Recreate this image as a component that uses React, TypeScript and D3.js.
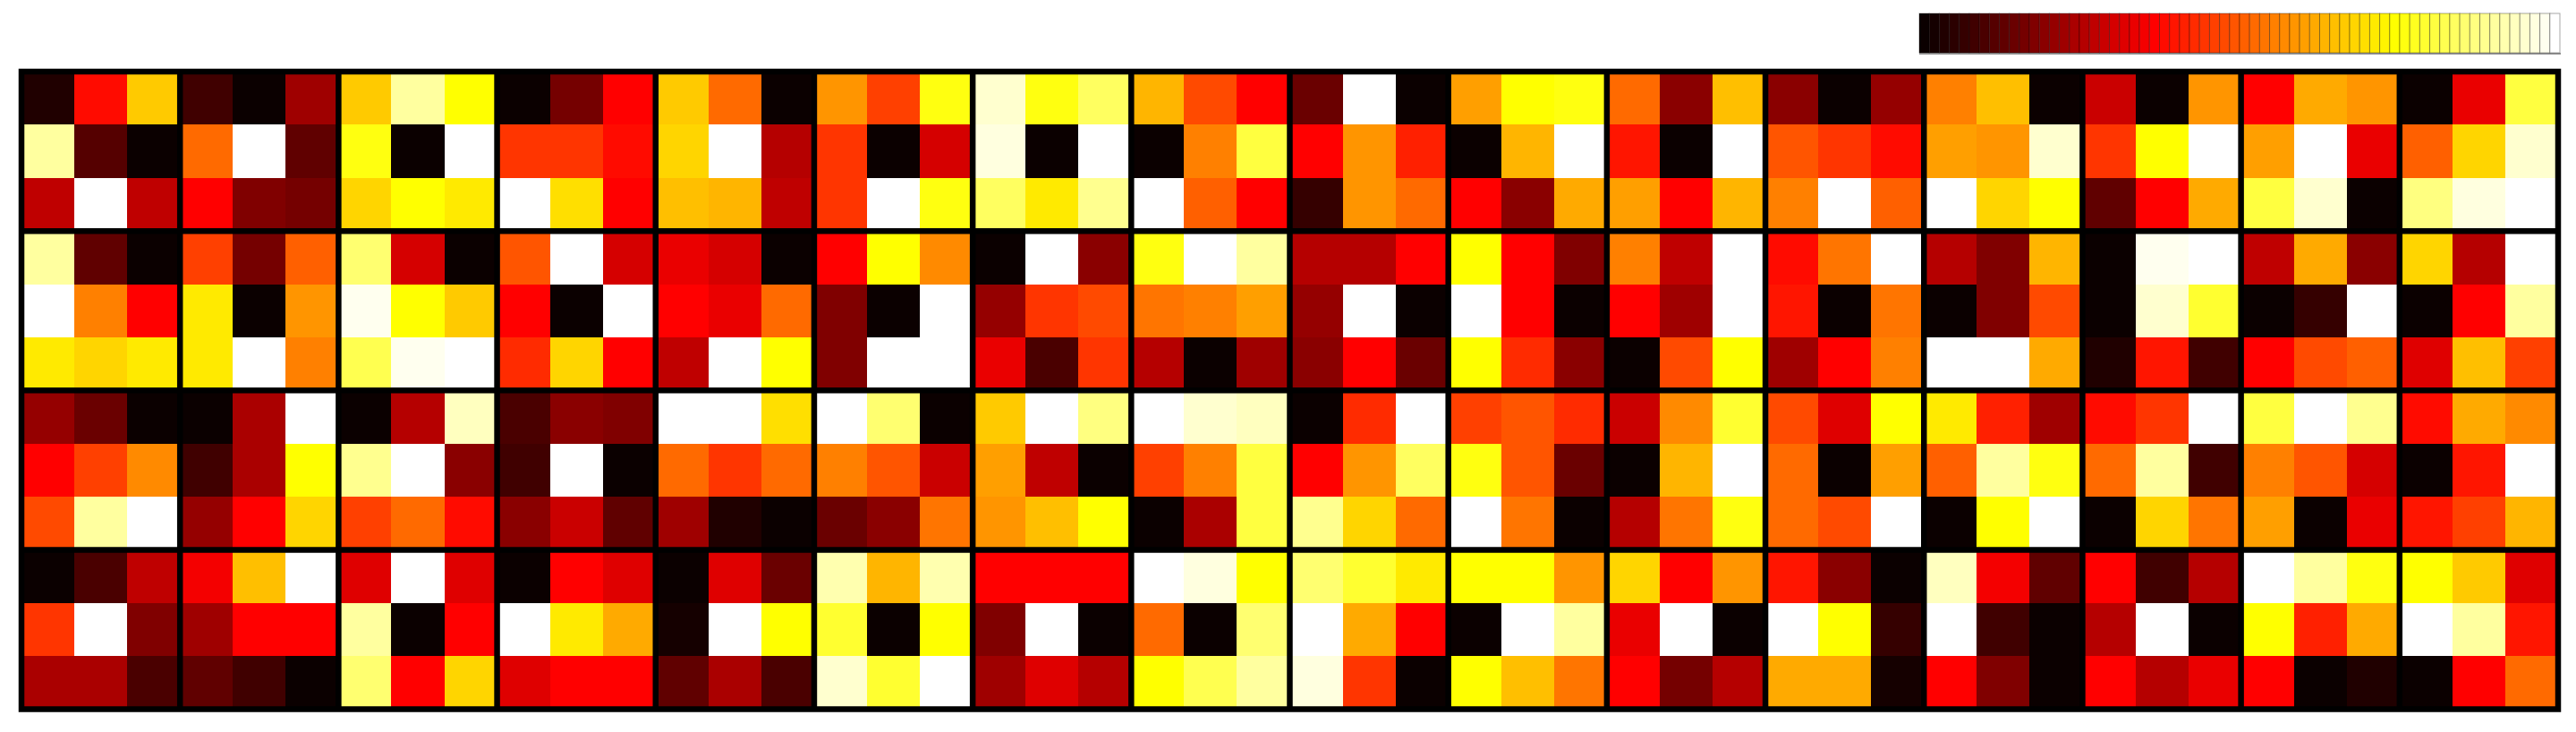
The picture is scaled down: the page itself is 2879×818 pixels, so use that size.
import React from "react";
import * as d3 from "d3";

// Colormap index (0..63, MATLAB-style "hot" with 64 levels) for each of 12 rows x 48 columns.
// 4 block rows x 16 block columns, each block 3x3 cells.
const row01 = [2,24,42, 5,0,14, 42,57,47, 0,10,23, 42,33,0, 37,29,48, 60,48,53, 40,30,23, 9,63,0, 38,47,48, 33,12,41, 12,0,13, 35,41,0, 18,0,37, 23,39,37, 0,21,51];
const row02 = [57,7,0, 33,63,8, 48,0,63, 28,28,24, 43,63,16, 28,0,19, 61,0,63, 0,35,51, 23,37,26, 0,40,63, 25,0,63, 31,28,24, 38,37,60, 28,47,63, 38,63,21, 32,43,60];
const row03 = [17,63,17, 23,11,10, 43,47,45, 63,44,23, 41,40,17, 28,63,48, 53,45,56, 63,32,23, 4,37,33, 23,12,39, 38,23,40, 35,63,32, 63,43,47, 8,23,39, 51,60,0, 55,61,63];
const row04 = [57,8,0, 29,10,32, 54,19,0, 31,63,19, 21,19,0, 23,47,36, 0,63,12, 48,63,57, 16,16,23, 47,23,11, 35,17,63, 24,34,63, 16,11,40, 0,62,63, 17,39,12, 43,16,63];
const row05 = [63,35,23, 45,0,37, 62,47,42, 23,0,63, 23,21,33, 11,0,63, 13,28,30, 34,35,38, 13,63,0, 63,23,0, 23,14,63, 25,0,34, 0,11,30, 0,60,50, 0,4,63, 0,23,57];
const row06 = [45,43,45, 45,63,35, 52,62,63, 27,43,23, 17,63,47, 11,63,63, 21,6,28, 16,0,14, 12,23,9, 47,27,12, 0,30,47, 14,23,35, 63,63,39, 2,25,5, 23,30,32, 20,41,29];
const row07 = [13,9,0, 0,15,63, 0,16,59, 6,12,11, 63,63,44, 63,54,0, 42,63,55, 63,60,59, 0,27,63, 29,31,27, 18,36,50, 30,20,47, 45,26,14, 24,28,63, 51,63,56, 24,39,36];
const row08 = [23,29,36, 5,15,47, 56,63,12, 5,63,0, 33,28,33, 35,31,18, 38,17,0, 29,35,51, 23,37,53, 48,31,9, 0,40,63, 33,0,38, 32,57,48, 33,57,5, 35,31,19, 0,25,63];
const row09 = [30,57,63, 13,23,43, 29,33,24, 12,18,8, 14,2,0, 9,12,34, 37,41,47, 0,15,51, 56,43,33, 63,34,0, 16,34,48, 33,30,63, 0,47,63, 0,43,34, 38,0,21, 25,29,40];
const row10 = [0,6,17, 22,41,63, 20,63,20, 0,23,20, 0,20,9, 58,40,58, 23,23,23, 63,61,47, 54,50,45, 47,47,37, 43,23,37, 25,12,0, 59,22,8, 23,5,16, 63,57,48, 47,42,20];
const row11 = [28,63,11, 14,23,23, 57,0,23, 63,45,39, 1,63,47, 50,0,47, 11,63,0, 33,0,54, 63,39,23, 0,63,57, 21,63,0, 63,47,4, 63,5,0, 16,63,0, 47,26,39, 63,57,25];
const row12 = [15,15,6, 8,5,0, 54,23,43, 20,23,23, 8,15,6, 60,50,63, 14,20,16, 47,52,57, 61,28,0, 47,41,34, 23,10,16, 39,39,1, 23,11,0, 23,16,21, 23,0,2, 0,23,33];

const rows = [row01, row02, row03, row04, row05, row06, row07, row08, row09, row10, row11, row12];
const nLevels = 64;
const blockSize = 3;

const clamp = (v: number) => Math.max(0, Math.min(1, v));
const hotColors = d3.range(nLevels).map((i) => {
  const r = clamp((i + 1) / 24);
  const g = clamp((i + 1 - 24) / 24);
  const b = clamp((i + 1 - 48) / 16);
  return d3.rgb(r * 255, g * 255, b * 255).formatHex();
});

export default function App() {
  const W = 2879;
  const H = 818;
  const nCols = rows[0].length;
  const nRows = rows.length;

  const x = d3.scaleBand<number>().domain(d3.range(nCols)).range([24, 2859]).padding(0);
  const y = d3.scaleBand<number>().domain(d3.range(nRows)).range([80, 792.5]).padding(0);
  const color = d3.scaleQuantize<string>().domain([0, nLevels]).range(hotColors);

  const cb = d3.scaleBand<number>().domain(d3.range(nLevels)).range([2145, 2861]).padding(0);
  const cbTop = 15;
  const cbBottom = 59;

  const lineW = 6.5;
  const vSeps = d3.range(1, nCols / blockSize).map((k) => x(k * blockSize) as number);
  const hSeps = d3.range(1, nRows / blockSize).map((k) => y(k * blockSize) as number);

  return (
    <svg
      width={W}
      height={H}
      style={{ position: "absolute", left: 0, top: 0, background: "#fff" }}
    >
      <rect x={0} y={0} width={W} height={H} fill="#fff" />
      {/* colorbar */}
      <g>
        <line x1={2145} x2={2862} y1={cbBottom + 1} y2={cbBottom + 1} stroke="#999" strokeWidth={2} />
        {d3.range(nLevels).map((i) => (
          <rect
            key={i}
            x={cb(i)}
            y={cbTop}
            width={cb.bandwidth()}
            height={cbBottom - cbTop}
            fill={hotColors[i]}
            stroke="rgba(0,0,0,0.35)"
            strokeWidth={1}
          />
        ))}
      </g>
      {/* heatmap cells */}
      <g shapeRendering="crispEdges">
        {rows.map((row, ri) =>
          row.map((v, ci) => (
            <rect
              key={`${ri}-${ci}`}
              x={x(ci)}
              y={y(ri)}
              width={x.bandwidth() + 0.6}
              height={y.bandwidth() + 0.6}
              fill={color(v)}
            />
          ))
        )}
      </g>
      {/* block separators */}
      <g>
        {vSeps.map((sx, i) => (
          <line key={`v${i}`} x1={sx} x2={sx} y1={80} y2={792.5} stroke="#000" strokeWidth={lineW} />
        ))}
        {hSeps.map((sy, i) => (
          <line key={`h${i}`} x1={24} x2={2859} y1={sy} y2={sy} stroke="#000" strokeWidth={lineW} />
        ))}
        <rect x={24} y={80} width={2859 - 24} height={792.5 - 80} fill="none" stroke="#000" strokeWidth={lineW} />
      </g>
    </svg>
  );
}
